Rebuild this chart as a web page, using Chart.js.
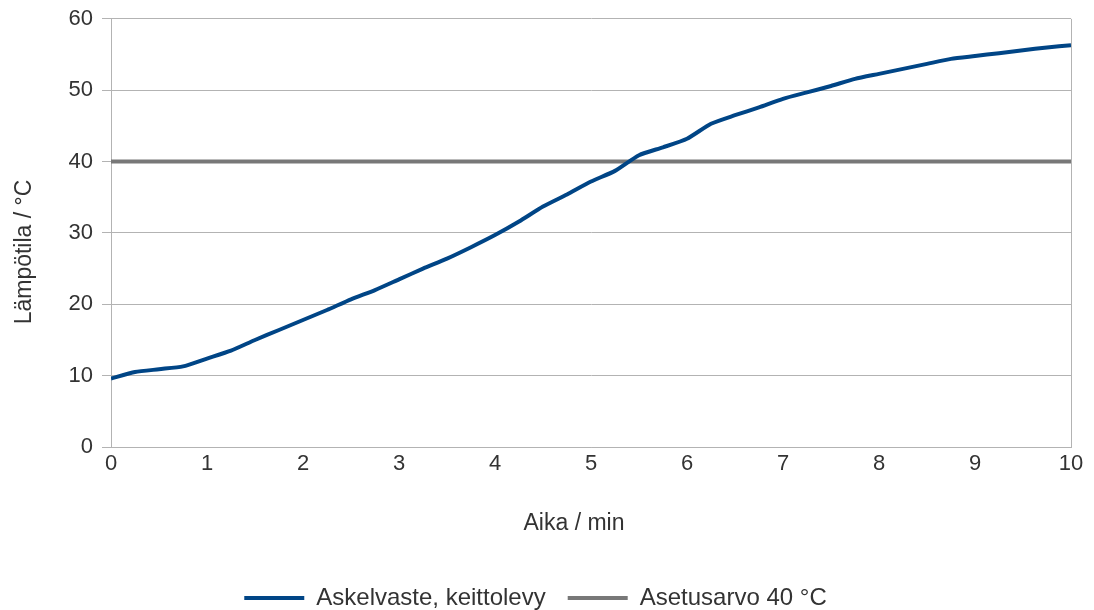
<!DOCTYPE html>
<html>
<head>
<meta charset="utf-8">
<script src="https://cdn.jsdelivr.net/npm/chart.js@4/dist/chart.umd.min.js"></script>
<style>
  html, body { margin: 0; padding: 0; background: #ffffff; }
  #wrap { width: 1094px; height: 610px; }
</style>
</head>
<body>
<div id="wrap"><canvas id="c" width="1094" height="610"></canvas></div>
<script>
// Time in minutes
const timeMin = [0, 0.25, 0.5, 0.75, 1, 1.25, 1.5, 1.75, 2, 2.25, 2.5, 2.75, 3, 3.25, 3.5, 3.75,
  4, 4.25, 4.5, 4.75, 5, 5.25, 5.5, 5.75, 6, 6.25, 6.5, 6.75, 7, 7.25, 7.5, 7.75,
  8, 8.25, 8.5, 8.75, 9, 9.25, 9.5, 9.75, 10];
// Measured temperature, step response on hot plate (°C)
const tempC = [9.6, 10.5, 10.9, 11.3, 12.4, 13.5, 15.0, 16.4, 17.8, 19.2, 20.7, 22.0, 23.5, 25.0, 26.4, 28.0,
  29.7, 31.6, 33.7, 35.4, 37.2, 38.7, 40.9, 42.0, 43.2, 45.3, 46.5, 47.6, 48.8, 49.7, 50.6, 51.6,
  52.3, 53.0, 53.7, 54.4, 54.8, 55.2, 55.6, 56.0, 56.3];
// Setpoint
const setpointTime = [0, 10];
const setpointValue = [40, 40];

const seriesNames = ["Askelvaste, keittolevy", "Asetusarvo 40 °C"];
const xTitle = "Aika / min";
const yTitle = "Lämpötila / °C";

const FONT = "'Liberation Sans', Arial, sans-serif";
const TEXT = "#333333";
const GRID = "#b3b3b3";
const PLOT_BOTTOM = 447;
const PAD_BOTTOM = -10;

const mk = (xs, ys) => xs.map((x, i) => ({ x: x, y: ys[i] }));

// Axis titles drawn as rotated / centred text
const axisTitles = {
  id: 'axisTitles',
  afterDraw(chart) {
    const ctx = chart.ctx;
    ctx.save();
    ctx.fillStyle = TEXT;
    ctx.font = "23px " + FONT;
    ctx.textAlign = 'center';
    ctx.textBaseline = 'middle';
    ctx.fillText(xTitle, 574, 524);
    ctx.translate(25, 252);
    ctx.rotate(-Math.PI / 2);
    ctx.fillText(yTitle, 0, 0);
    ctx.restore();
  }
};

// Right-hand frame line of the plot
const rightEdge = {
  id: 'rightEdge',
  afterDatasetsDraw(chart) {
    const a = chart.chartArea, ctx = chart.ctx;
    ctx.save();
    ctx.strokeStyle = GRID;
    ctx.lineWidth = 1;
    ctx.beginPath();
    ctx.moveTo(Math.round(a.right) + 0.5, a.top);
    ctx.lineTo(Math.round(a.right) + 0.5, a.bottom);
    ctx.stroke();
    ctx.restore();
  }
};

new Chart(document.getElementById('c'), {
  type: 'line',
  data: {
    datasets: [
      {
        label: seriesNames[0],
        data: mk(timeMin, tempC),
        borderColor: '#004586',
        backgroundColor: '#004586',
        borderWidth: 4,
        pointRadius: 0,
        tension: 0.2,
        order: 1
      },
      {
        label: seriesNames[1],
        data: mk(setpointTime, setpointValue),
        borderColor: '#787878',
        backgroundColor: '#787878',
        borderWidth: 4,
        pointRadius: 0,
        tension: 0,
        order: 2
      }
    ]
  },
  options: {
    responsive: false,
    animation: false,
    layout: { padding: { left: 0, right: 23, top: 0, bottom: PAD_BOTTOM } },
    plugins: {
      tooltip: { enabled: false },
      legend: {
        position: 'bottom',
        labels: {
          font: { family: FONT, size: 24 },
          color: TEXT,
          boxWidth: 60,
          boxHeight: 4,
          padding: 22,
          generateLabels(chart) {
            return chart.data.datasets.map((ds, i) => ({
              text: ds.label,
              fillStyle: ds.borderColor,
              strokeStyle: ds.borderColor,
              lineWidth: 0,
              hidden: false,
              datasetIndex: i,
              fontColor: TEXT
            }));
          }
        }
      }
    },
    scales: {
      x: {
        type: 'linear',
        min: 0,
        max: 10,
        ticks: { stepSize: 1, font: { family: FONT, size: 22 }, color: TEXT, padding: -4 },
        grid: { display: false, drawTicks: true, tickLength: 8, color: GRID },
        border: { color: GRID, width: 1 },
        afterFit(scale) {
          const lg = scale.chart.legend ? scale.chart.legend.height : 0;
          scale.height = 610 - PLOT_BOTTOM - lg - PAD_BOTTOM;
        }
      },
      y: {
        min: 0,
        max: 60,
        ticks: { stepSize: 10, font: { family: FONT, size: 22, lineHeight: 0.9 }, color: TEXT, padding: 9 },
        grid: { color: GRID, lineWidth: 1, tickLength: 9 },
        border: { color: GRID, width: 1 },
        afterFit(scale) { scale.width = 111; }
      }
    }
  },
  plugins: [rightEdge, axisTitles]
});
</script>
</body>
</html>
